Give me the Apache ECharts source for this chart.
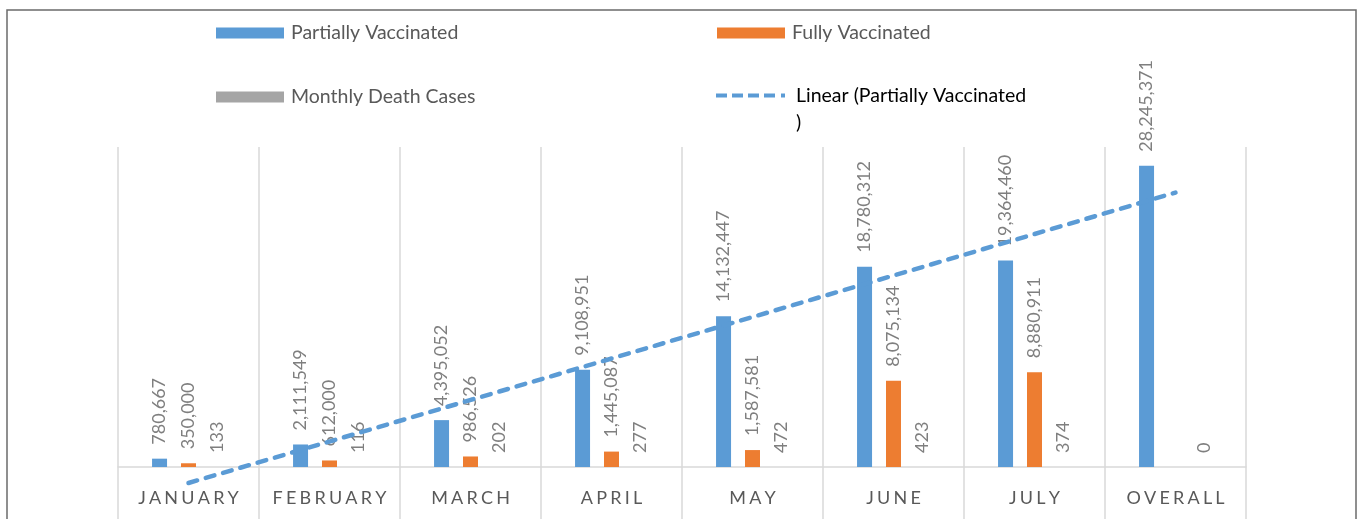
<!DOCTYPE html>
<html>
<head>
<meta charset="utf-8">
<script src="https://cdn.jsdelivr.net/npm/echarts@6/dist/echarts.min.js"></script>
<style>
  html, body { margin: 0; padding: 0; background: #fff; }
  #charts { width: 1360px; height: 519px; }
</style>
</head>
<body>
<div id="charts"></div>
<script>
  var months = ['JANUARY', 'FEBRUARY', 'MARCH', 'APRIL', 'MAY', 'JUNE', 'JULY', 'OVERALL'];
  var partially = [780667, 2111549, 4395052, 9108951, 14132447, 18780312, 19364460, 28245371];
  var fully = [350000, 612000, 986526, 1445087, 1587581, 8075134, 8880911, null];
  var deaths = [133, 116, 202, 277, 472, 423, 374, 0];
  // trend line ends (January .. Overall)
  var trend = [-1500000, null, null, null, null, null, null, 25730000];

  var font = 'Lato, "Open Sans", sans-serif';

  function fmt(p) { return p.value == null ? '' : Number(p.value).toLocaleString('en-US'); }

  var barLabel = {
    show: true,
    position: 'top',
    rotate: 90,
    align: 'left',
    verticalAlign: 'middle',
    distance: 14,
    color: '#7f7f7f',
    fontSize: 18,
    fontFamily: font,
    formatter: fmt
  };

  function legendAt(name, left, top, extra) {
    var l = {
      data: [name],
      left: left,
      top: top,
      padding: 0,
      orient: 'horizontal',
      itemWidth: 68,
      itemHeight: 11,
      selectedMode: false,
      icon: 'rect',
      textStyle: { color: '#595959', fontSize: 19.5, fontFamily: font, lineHeight: 22, padding: [0, 0, 0, 2] }
    };
    return Object.assign(l, extra || {});
  }

  // dashed legend sample: four dashes and a dot
  var dashIcon = 'path://M0,0h11v4h-11zM16,0h11v4h-11zM32,0h11v4h-11zM48,0h11v4h-11zM65,0h4v4h-4z';

  var option = {
    animation: false,
    backgroundColor: '#fff',
    graphic: [{
      type: 'rect',
      shape: { x: 7, y: 10, width: 1349, height: 520 },
      style: { fill: 'none', stroke: '#6b6b6b', lineWidth: 1.5 },
      silent: true
    }],
    legend: [
      legendAt('Partially Vaccinated', 216, 22),
      legendAt('Fully Vaccinated', 717, 22),
      legendAt('Monthly Death Cases', 216, 86),
      legendAt('Linear (Partially Vaccinated)', 716, 55, {
        icon: dashIcon,
        itemWidth: 69,
        itemHeight: 4,
        itemStyle: { color: '#5b9bd5' },
        formatter: function () { return '\nLinear (Partially Vaccinated\n)'; },
        textStyle: { color: '#000', fontSize: 19.5, fontFamily: font, lineHeight: 27, padding: [0, 0, 0, 6] }
      })
    ],
    grid: { left: 118, right: 114, top: 147, bottom: 52 },
    xAxis: {
      type: 'category',
      data: months,
      axisLine: { lineStyle: { color: '#d9d9d9', width: 1.5 } },
      axisTick: { show: true, interval: 0, length: 52, lineStyle: { color: '#d9d9d9', width: 1.5 } },
      splitLine: { show: true, interval: 0, lineStyle: { color: '#d9d9d9', width: 1.5 } },
      axisLabel: {
        interval: 0,
        margin: 22,
        color: '#595959',
        fontSize: 18,
        fontFamily: font,
        // spaced capitals, one rich token per letter
        formatter: function (v) { return v.split('').map(function (c) { return '{l|' + c + '}'; }).join(''); },
        rich: {
          l: { color: '#595959', fontSize: 18, fontFamily: font, padding: [0, 1.6, 0, 1.6] }
        }
      }
    },
    yAxis: {
      type: 'value',
      min: 0,
      max: 30000000,
      show: false,
      splitLine: { show: false }
    },
    series: [
      {
        name: 'Partially Vaccinated',
        type: 'bar',
        data: partially,
        barWidth: 15,
        barGap: '93%',
        itemStyle: { color: '#5b9bd5' },
        label: barLabel
      },
      {
        name: 'Fully Vaccinated',
        type: 'bar',
        data: fully,
        barWidth: 15,
        barGap: '93%',
        itemStyle: { color: '#ed7d31' },
        label: barLabel
      },
      {
        name: 'Monthly Death Cases',
        type: 'bar',
        data: deaths,
        barWidth: 15,
        barGap: '93%',
        itemStyle: { color: '#a5a5a5' },
        label: barLabel
      },
      {
        name: 'Linear (Partially Vaccinated)',
        type: 'line',
        data: trend,
        connectNulls: true,
        symbol: 'none',
        clip: false,
        z: 5,
        itemStyle: { color: '#5b9bd5' },
        lineStyle: { color: '#5b9bd5', width: 4.5, type: [9, 9], cap: 'round' }
      }
    ]
  };

  var myChart = echarts.init(document.getElementById('charts'));
  myChart.setOption(option);
</script>
</body>
</html>
